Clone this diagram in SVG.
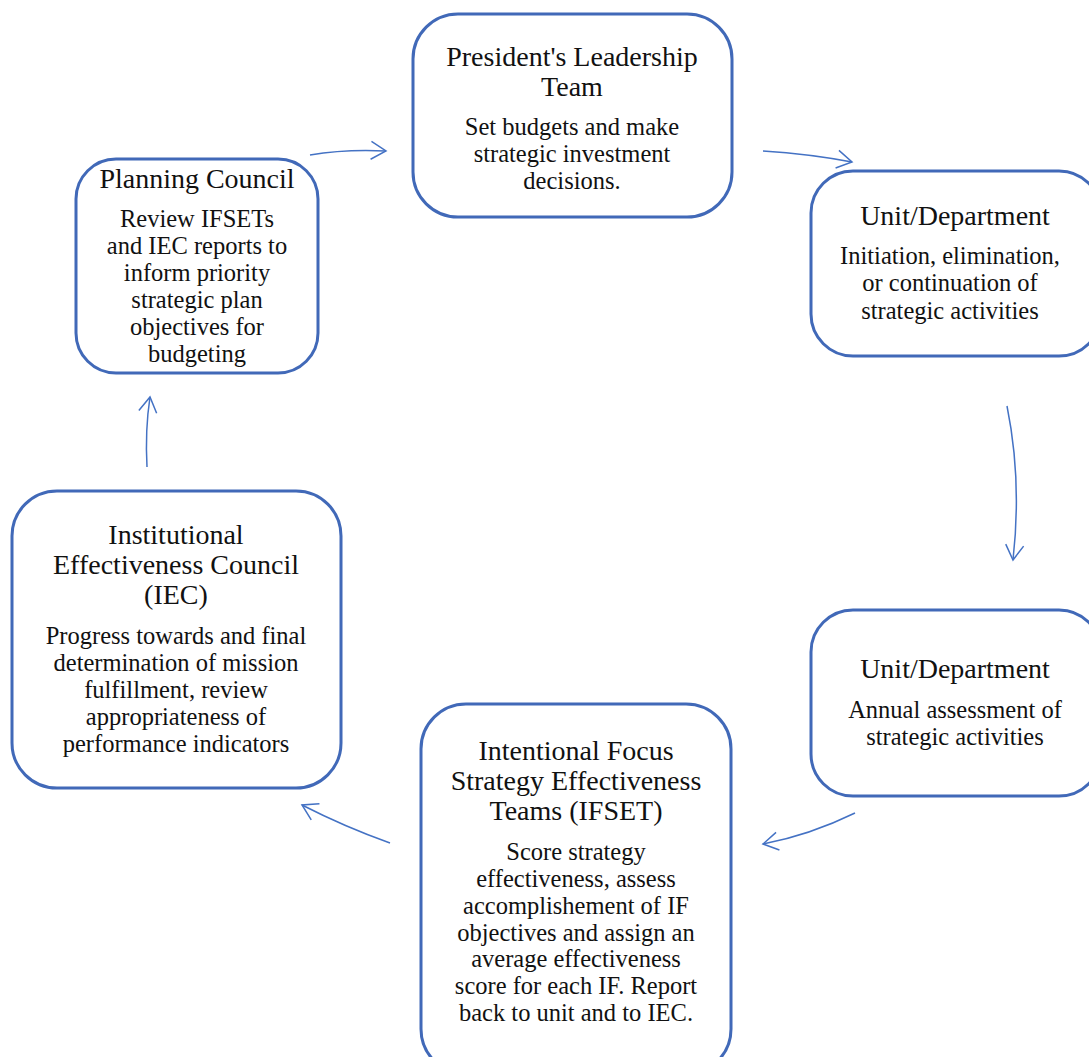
<svg xmlns="http://www.w3.org/2000/svg" width="1089" height="1057" viewBox="0 0 1089 1057">
<style>
.box{fill:#fff;stroke:#4169b8;stroke-width:3}
.t{font-family:"Liberation Serif","DejaVu Serif",serif;font-size:28px;fill:#111;text-anchor:middle}
.b{font-family:"Liberation Serif","DejaVu Serif",serif;font-size:24.5px;fill:#111;text-anchor:middle}
.c{fill:none;stroke:#4472c4;stroke-width:1.5}
</style>
<defs>
<marker id="ah" viewBox="-17 -11 19 22" refX="0" refY="0" markerWidth="19" markerHeight="22" markerUnits="userSpaceOnUse" orient="auto">
<path d="M-15,-9 L0,0 L-15,9" fill="none" stroke="#4472c4" stroke-width="1.5"/>
</marker>
</defs>
<rect width="1089" height="1057" fill="#fff"/>
<g id="connectors">
<path class="c" d="M310,155 Q345,149 386,151" marker-end="url(#ah)"/>
<path class="c" d="M763,151 Q810,154 852,162" marker-end="url(#ah)"/>
<path class="c" d="M1007,406 Q1022,480 1013,560" marker-end="url(#ah)"/>
<path class="c" d="M855,813 Q810,835 763,844" marker-end="url(#ah)"/>
<path class="c" d="M390,843 Q345,827 302,805" marker-end="url(#ah)"/>
<path class="c" d="M147,467 Q145,430 150,397" marker-end="url(#ah)"/>
</g>
<g id="president">
<rect class="box" x="413" y="14" width="319" height="203" rx="45"/>
<text class="t" x="572" y="66">President's Leadership</text>
<text class="t" x="572" y="96">Team</text>
<text class="b" x="572" y="135">Set budgets and make</text>
<text class="b" x="572" y="162">strategic investment</text>
<text class="b" x="572" y="189">decisions.</text>
</g>
<g id="unit1">
<rect class="box" x="811" y="171" width="290" height="185" rx="42"/>
<text class="t" x="955" y="225">Unit/Department</text>
<text class="b" x="950" y="264">Initiation, elimination,</text>
<text class="b" x="950" y="291">or continuation of</text>
<text class="b" x="950" y="319">strategic activities</text>
</g>
<g id="unit2">
<rect class="box" x="811" y="610" width="290" height="186" rx="42"/>
<text class="t" x="955" y="678">Unit/Department</text>
<text class="b" x="955" y="718">Annual assessment of</text>
<text class="b" x="955" y="745">strategic activities</text>
</g>
<g id="ifset">
<rect class="box" x="421" y="704" width="310" height="370" rx="45"/>
<text class="t" x="576" y="760">Intentional Focus</text>
<text class="t" x="576" y="790">Strategy Effectiveness</text>
<text class="t" x="576" y="820">Teams (IFSET)</text>
<text class="b" x="576" y="860">Score strategy</text>
<text class="b" x="576" y="887">effectiveness, assess</text>
<text class="b" x="576" y="914">accomplishement of IF</text>
<text class="b" x="576" y="941">objectives and assign an</text>
<text class="b" x="576" y="967">average effectiveness</text>
<text class="b" x="576" y="994">score for each IF. Report</text>
<text class="b" x="576" y="1021">back to unit and to IEC.</text>
</g>
<g id="iec">
<rect class="box" x="12" y="491" width="329" height="297" rx="45"/>
<text class="t" x="176" y="544">Institutional</text>
<text class="t" x="176" y="574">Effectiveness Council</text>
<text class="t" x="176" y="604">(IEC)</text>
<text class="b" x="176" y="644">Progress towards and final</text>
<text class="b" x="176" y="671">determination of mission</text>
<text class="b" x="176" y="698">fulfillment, review</text>
<text class="b" x="176" y="725">appropriateness of</text>
<text class="b" x="176" y="752">performance indicators</text>
</g>
<g id="planning">
<rect class="box" x="76" y="159" width="242" height="214" rx="40"/>
<text class="t" x="197" y="188">Planning Council</text>
<text class="b" x="197" y="227">Review IFSETs</text>
<text class="b" x="197" y="254">and IEC reports to</text>
<text class="b" x="197" y="281">inform priority</text>
<text class="b" x="197" y="308">strategic plan</text>
<text class="b" x="197" y="335">objectives for</text>
<text class="b" x="197" y="362">budgeting</text>
</g>
</svg>
